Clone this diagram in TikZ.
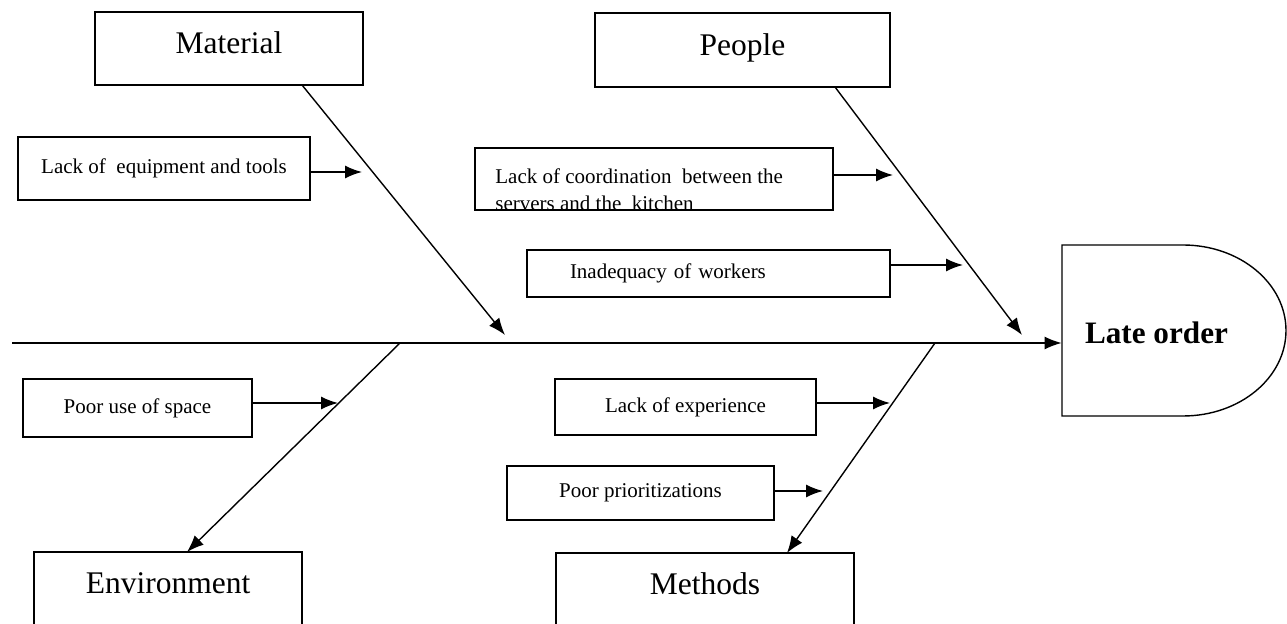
\documentclass[tikz,border=0pt]{standalone}
\usepackage{fontspec}
\setmainfont{Liberation Serif}
\usetikzlibrary{arrows.meta}

\begin{document}
\begin{tikzpicture}[x=0.5pt,y=-0.5pt,
  bigbox/.style={draw,line width=0.7pt,inner sep=0pt,font=\fontsize{15.75}{18}\selectfont},
  smallbox/.style={draw,line width=0.7pt,inner sep=0pt,font=\fontsize{10.5}{13.5}\selectfont},
  bone/.style={line width=0.7pt},
  tip/.style={line width=0.7pt,-{Latex[length=8.5pt,width=6.5pt]}}]
\useasboundingbox (0,0) rectangle (1287,624);
\clip (0,0) rectangle (1287,624);
% main categories
\foreach \n/\x/\y/\w/\h/\d/\t in {material/229/48.5/268/73/5.5/Material, people/742.5/50/295/74/5.5/People,
    environment/168/596/268/88/13/Environment, methods/705/596.5/298/87/13/Methods}
  \node[bigbox,minimum width=\w*0.5pt,minimum height=\h*0.5pt,text depth=\d pt] (\n) at (\x,\y) {\t};
% causes
\foreach \n/\x/\y/\w/\h/\t in {equip/164/168.5/292/63/Lack of\ \ equipment and tools,
    space/137.5/408/229/58/Poor use of space,
    exper/685.5/407/261/56/Lack of experience, prior/640.5/493/267/54/Poor prioritizations}
  \node[smallbox,minimum width=\w*0.5pt,minimum height=\h*0.5pt] (\n) at (\x,\y) {\t};
\node[smallbox,minimum height=23.5pt,inner xsep=21.5pt,text width=138.5pt,align=left] (inad) at (708.5,273.5)
  {Inadequacy of workers};
% second line is cut by the frame
\node[smallbox,minimum width=179pt,minimum height=31pt] (coord) at (654,179) {};
\begin{scope}
  \clip (coord.south west) rectangle (coord.north east);
  \node[font=\fontsize{10.5}{13.5}\selectfont,align=left,inner sep=0pt,anchor=north west] (coordtxt) at (495,168)
    {Lack of coordination\ \ between the\\servers and the\ \ kitchen};
\end{scope}
% head and spine
\node[font=\fontsize{15.6}{18}\selectfont\bfseries,minimum width=94.5pt,inner sep=0pt] (late) at (1156.5,333) {Late order};
\draw[bone] (1062,245) -- (1183,245) arc[start angle=-90,end angle=90,x radius=103,y radius=85.5] -- (1062,416) -- cycle;
\coordinate (spineL) at (12,343);
\draw[tip] (spineL) -- (spineL -| late.west);
% bones
\foreach \n/\xa/\ya/\xb/\yb in {mat/302/85/505/335, ppl/835/87/1022/335, env/400/343/187/552, met/935/343/787/553} {
  \coordinate (\n top) at (\xa,\ya);
  \coordinate (\n end) at (\xb,\yb);
  \draw[tip] (\n top) -- (\n end);
}
% small arrows
\foreach \n/\x/\y in {equip/362/172, coord/893/175, inad/963/265, space/338/403, exper/890/403, prior/823/491} {
  \coordinate (tip\n) at (\x,\y);
  \draw[tip] (\n.east |- tip\n) -- (tip\n);
}
\end{tikzpicture}
\end{document}
